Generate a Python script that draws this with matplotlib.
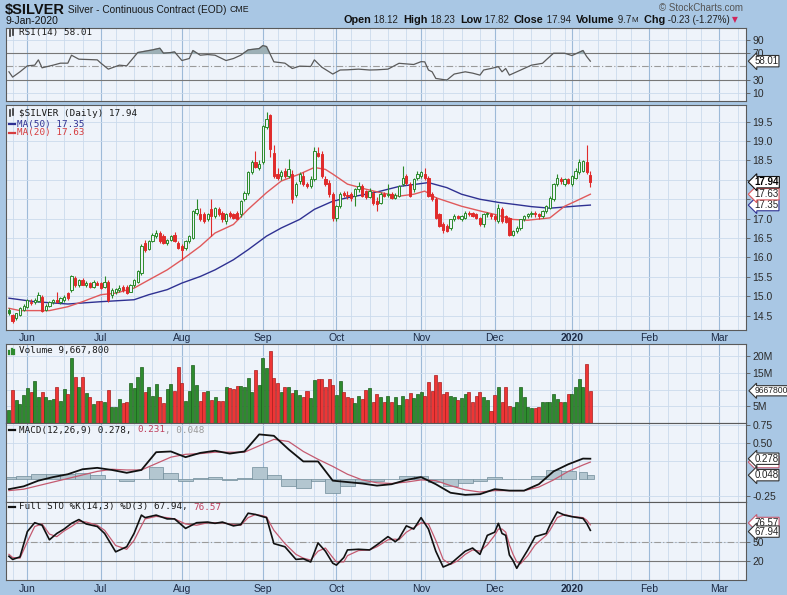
import matplotlib
matplotlib.use("Agg")
import matplotlib.pyplot as plt
from matplotlib import transforms
from matplotlib.lines import Line2D
import numpy as np
import pandas as pd

# ---- data (daily bars, 24-May-2019 .. 9-Jan-2020) ----
opens = [
    14.65, 14.52, 14.43, 14.52, 14.65,                                  # May
    14.73, 14.82, 14.84, 14.88, 14.99, 14.65, 14.76, 14.84, 14.91, 14.84,
    14.90, 15.08, 15.17, 15.47, 15.30, 15.42, 15.30, 15.33, 15.25, 15.34,  # Jun
    15.34, 15.25, 15.38, 15.04, 15.12, 15.17, 15.25, 15.25, 15.12, 15.30, 15.38,
    15.60, 16.37, 16.22, 16.42, 16.55, 16.63, 16.55, 16.38, 16.46, 16.59, 16.38,  # Jul
    16.29, 16.25, 16.42, 16.50, 17.15, 17.11, 17.11, 16.98, 17.24, 17.07, 17.24,
    17.15, 16.94, 17.15, 17.11, 17.15, 17.11, 17.50, 17.67, 18.19, 18.45, 18.30,  # Aug
    18.45, 19.35, 19.66, 18.70, 18.15, 18.10, 18.23, 18.10, 18.15, 17.60,
    17.97, 18.10, 17.89, 17.84, 18.02, 18.70, 18.66, 18.02, 17.93, 17.63,  # Sep
    17.02, 17.32, 17.67, 17.60, 17.63, 17.58, 17.76, 17.84, 17.71, 17.56, 17.67, 17.45,
    17.41, 17.63, 17.60, 17.63, 17.54, 17.58, 17.89, 18.10, 17.89, 17.76, 18.06,  # Oct
    18.10, 18.15, 18.06, 17.63, 17.50, 17.11, 16.85, 16.81, 16.76, 16.98,
    17.07, 17.00, 17.02, 17.15, 17.15, 17.11, 17.02, 16.85, 17.15, 17.11,  # Nov
    17.07, 16.94, 17.24, 17.07, 17.02, 16.59, 16.68, 16.76, 16.98, 17.07, 17.11,
    17.15, 17.11, 17.07, 17.20, 17.28, 17.50, 17.89, 18.02, 17.89, 18.02,  # Dec
    17.89, 18.06, 18.19, 18.23, 18.45, 18.12,                            # Jan
]
highs = [
    14.69, 14.55, 14.58, 14.72, 14.80,
    14.93, 14.92, 14.95, 15.12, 15.02, 14.80, 14.88, 14.93, 15.12, 14.97,
    15.02, 15.10, 15.55, 15.52, 15.45, 15.48, 15.40, 15.38, 15.42, 15.40,
    15.38, 15.51, 15.42, 15.20, 15.22, 15.28, 15.30, 15.30, 15.32, 15.45, 15.68,
    16.35, 16.45, 16.45, 16.62, 16.70, 16.68, 16.60, 16.48, 16.58, 16.65, 16.42,
    16.35, 16.45, 16.58, 17.22, 17.50, 17.28, 17.18, 17.15, 17.50, 17.30, 17.30,
    17.20, 17.15, 17.20, 17.15, 17.20, 17.48, 17.72, 18.22, 18.50, 18.75, 18.50,
    19.42, 19.76, 19.70, 18.90, 18.30, 18.25, 18.30, 18.53, 18.25, 17.95,
    18.20, 18.20, 17.95, 18.10, 18.85, 18.85, 18.75, 18.10, 18.00, 17.70,
    17.35, 17.70, 17.72, 17.72, 17.68, 17.80, 17.95, 17.90, 17.75, 17.78, 17.72, 17.55,
    17.68, 17.70, 17.90, 17.70, 17.65, 17.88, 18.36, 18.15, 17.95, 18.05, 18.22,
    18.23, 18.30, 18.10, 17.70, 17.55, 17.15, 16.92, 16.85, 16.98, 17.12,
    17.10, 17.10, 17.20, 17.20, 17.18, 17.15, 17.05, 17.15, 17.18, 17.15,
    17.12, 17.37, 17.30, 17.10, 17.05, 16.70, 16.80, 17.00, 17.10, 17.15, 17.20,
    17.20, 17.15, 17.22, 17.35, 17.58, 17.92, 18.15, 18.08, 18.05, 18.06,
    18.12, 18.30, 18.55, 18.52, 18.90, 18.23,
]
lows = [
    14.52, 14.30, 14.40, 14.50, 14.62,
    14.70, 14.78, 14.80, 14.85, 14.60, 14.62, 14.72, 14.80, 14.82, 14.80,
    14.85, 14.90, 15.10, 15.25, 15.25, 15.28, 15.25, 15.20, 15.20, 15.28,
    15.18, 15.20, 14.85, 14.95, 15.05, 15.12, 15.12, 15.05, 15.10, 15.25, 15.35,
    15.55, 16.15, 16.18, 16.40, 16.50, 16.38, 16.35, 16.33, 16.42, 16.40, 16.22,
    15.94, 16.20, 16.38, 16.48, 17.10, 16.95, 16.90, 16.95, 16.55, 17.02, 17.08,
    16.92, 16.85, 17.02, 17.00, 16.98, 17.05, 17.45, 17.62, 18.15, 18.30, 18.25,
    18.40, 19.30, 18.60, 18.05, 18.00, 18.00, 18.05, 18.05, 17.40, 17.55,
    17.90, 17.85, 17.80, 17.80, 17.98, 18.60, 18.05, 17.85, 17.55, 16.95,
    16.95, 17.28, 17.55, 17.50, 17.45, 17.32, 17.70, 17.55, 17.50, 17.52, 17.35, 17.20,
    17.38, 17.55, 17.55, 17.50, 17.50, 17.55, 17.85, 17.88, 17.55, 17.70, 18.00,
    18.05, 18.00, 17.55, 17.45, 16.98, 16.78, 16.63, 16.65, 16.70, 16.95,
    16.98, 16.95, 16.98, 17.08, 17.05, 17.00, 16.80, 16.78, 17.05, 17.00,
    16.95, 16.90, 16.90, 16.90, 16.55, 16.55, 16.63, 16.72, 16.95, 17.02, 17.05,
    17.05, 17.00, 17.02, 17.15, 17.25, 17.45, 17.85, 17.90, 17.85, 17.90,
    17.85, 18.02, 18.15, 18.20, 18.15, 17.82,
]
closes = [
    14.56, 14.35, 14.56, 14.69, 14.76,
    14.90, 14.86, 14.91, 15.04, 14.63, 14.76, 14.86, 14.90, 14.86, 14.95,
    14.99, 14.95, 15.51, 15.30, 15.42, 15.30, 15.34, 15.25, 15.38, 15.30,
    15.21, 15.38, 14.91, 15.17, 15.19, 15.21, 15.17, 15.08, 15.30, 15.42, 15.64,
    16.30, 16.20, 16.42, 16.59, 16.63, 16.42, 16.38, 16.46, 16.55, 16.42, 16.25,
    16.20, 16.42, 16.55, 17.19, 17.24, 16.98, 16.94, 17.11, 17.07, 17.28, 17.11,
    16.98, 17.11, 17.07, 17.02, 17.00, 17.45, 17.67, 18.19, 18.45, 18.32, 18.40,
    19.40, 19.57, 18.79, 18.10, 18.06, 18.19, 18.10, 18.27, 17.50, 17.89,
    18.15, 17.89, 17.84, 18.02, 18.75, 18.62, 18.10, 17.89, 17.63, 17.02,
    17.32, 17.63, 17.60, 17.58, 17.54, 17.76, 17.84, 17.58, 17.56, 17.71, 17.41, 17.37,
    17.63, 17.58, 17.63, 17.54, 17.60, 17.84, 18.06, 17.93, 17.58, 18.02, 18.15,
    18.19, 18.06, 17.58, 17.50, 17.02, 16.81, 16.72, 16.68, 16.98, 17.07,
    17.02, 17.07, 17.15, 17.13, 17.07, 17.02, 16.85, 17.11, 17.13, 17.07,
    17.00, 17.28, 16.94, 16.92, 16.59, 16.68, 16.76, 16.98, 17.07, 17.11, 17.15,
    17.11, 17.07, 17.20, 17.32, 17.54, 17.89, 18.06, 17.97, 18.02, 17.93,
    18.10, 18.23, 18.45, 18.49, 18.19, 17.94,
]
volumes_m = [
    3.9, 9.9, 6.9, 5.7, 8.4,
    10.5, 9.2, 12.5, 7.9, 9.2, 7.7, 6.9, 7.2, 10.7, 6.7,
    10.2, 8.7, 19.5, 13.9, 10.7, 13.7, 8.9, 7.7, 5.7, 6.7,
    6.7, 6.4, 9.9, 4.7, 4.9, 7.2, 5.9, 6.4, 11.9, 10.5, 13.9,
    16.9, 9.4, 10.7, 8.2, 11.7, 7.7, 5.9, 10.2, 11.7, 9.7, 16.7,
    11.9, 6.7, 9.7, 17.4, 11.4, 6.7, 9.4, 9.7, 6.9, 7.7, 6.7,
    6.7, 10.7, 10.5, 10.2, 11.0, 11.2, 10.7, 13.5, 9.4, 15.9, 11.4,
    19.5, 16.5, 21.7, 13.4, 11.9, 9.4, 10.9, 10.7, 8.9, 9.9,
    8.4, 7.9, 9.7, 7.4, 12.9, 13.2, 13.2, 10.9, 13.2, 11.4,
    8.4, 12.5, 9.2, 7.9, 7.4, 5.9, 8.2, 7.2, 9.9, 10.5, 6.2, 8.7,
    7.9, 6.2, 8.2, 6.4, 7.7, 5.5, 8.2, 7.2, 9.0, 7.4, 8.8,
    9.4, 8.2, 12.4, 9.7, 14.4, 12.2, 8.7, 9.2, 8.2, 7.9,
    6.9, 7.4, 8.7, 9.2, 6.2, 8.2, 9.4, 7.7, 6.9, 3.5,
    8.4, 10.7, 6.4, 10.7, 5.2, 4.7, 6.2, 10.7, 7.7, 4.7, 4.4,
    4.4, 4.7, 6.2, 6.2, 6.2, 8.7, 7.2, 6.2, 6.2, 8.7,
    8.7, 10.7, 13.2, 10.9, 17.7, 9.6678,
]

ma50_x = [0, 7, 16, 25, 34, 38, 43, 47, 52, 56, 61, 65, 70, 74, 79, 83, 88, 92, 97, 101,
          106, 110, 114, 119, 123, 128, 133, 138, 142, 147, 151, 155, 158]
ma50 = [14.95, 14.86, 14.80, 14.86, 14.91, 15.04, 15.17, 15.34, 15.51, 15.68, 15.94, 16.20,
        16.55, 16.76, 16.98, 17.24, 17.45, 17.54, 17.63, 17.71, 17.83, 17.88, 17.93, 17.80,
        17.63, 17.50, 17.42, 17.36, 17.31, 17.27, 17.30, 17.33, 17.35]
ma20_x = [0, 3, 7, 11, 16, 20, 25, 29, 34, 38, 43, 47, 52, 56, 61, 65, 70, 74, 79, 83, 86,
          88, 92, 97, 101, 106, 110, 113, 116, 123, 128, 132, 137, 141, 147, 151, 154, 158]
ma20 = [14.69, 14.63, 14.63, 14.63, 14.73, 14.86, 15.04, 15.08, 15.21, 15.42, 15.68, 15.94,
        16.29, 16.63, 16.85, 17.24, 17.67, 17.97, 18.15, 18.32, 18.27, 18.15, 17.89, 17.76,
        17.67, 17.58, 17.63, 17.71, 17.54, 17.32, 17.20, 17.11, 16.98, 16.96, 17.02, 17.32,
        17.45, 17.63]

rsi_x = [0, 1, 3, 5, 7, 8, 9, 12, 14, 16, 17, 19, 24, 25, 27, 30, 32, 35, 39, 41, 42, 44,
         45, 47, 49, 50, 52, 54, 56, 59, 61, 63, 65, 68, 69, 70, 72, 75, 77, 79, 82, 83, 85,
         88, 90, 92, 95, 98, 100, 103, 106, 110, 112, 113, 114, 115, 116, 119, 121, 124, 126,
         128, 129, 131, 133, 134, 135, 136, 138, 142, 145, 146, 148, 151, 153, 154, 156, 157, 158]
rsi = [42, 34, 42, 51, 52, 60, 48, 52, 55, 55, 67, 61, 60, 55, 46, 52, 51, 71, 75, 77.5, 70,
       71, 72, 59, 62, 74, 67, 68, 67, 59, 62, 67, 75, 77, 81.5, 80, 57, 55, 47, 50.5, 50, 60,
       49, 38.6, 44.7, 45, 46, 44.7, 45, 46, 54.8, 53, 57.3, 57, 44.7, 42, 32, 29.5, 38.6, 42,
       40, 37, 44.7, 47, 49.7, 42, 47, 37, 42, 52, 54.8, 60, 70, 70, 66.5, 69, 74, 65, 58.01]

macd_x = list(range(0, 157, 4)) + [158]
macd = [-0.15, -0.11, -0.03, 0.02, 0.06, 0.13, 0.15, 0.12, 0.08, 0.12, 0.37, 0.38, 0.30,
        0.36, 0.39, 0.35, 0.38, 0.62, 0.60, 0.41, 0.24, 0.24, -0.03, -0.05, -0.07, -0.10,
        -0.08, -0.02, 0.02, -0.08, -0.20, -0.23, -0.22, -0.15, -0.17, -0.17, -0.08, 0.10,
        0.20, 0.28, 0.278]
signal = [-0.17, -0.15, -0.10, -0.05, 0.00, 0.05, 0.10, 0.13, 0.12, 0.12, 0.21, 0.30, 0.34,
          0.35, 0.37, 0.37, 0.37, 0.46, 0.55, 0.52, 0.38, 0.27, 0.17, 0.06, -0.02, -0.06,
          -0.07, -0.05, -0.02, -0.03, -0.10, -0.16, -0.19, -0.17, -0.17, -0.17, -0.12, -0.02,
          0.10, 0.19, 0.231]

sto_x = [0, 1, 3, 5, 7, 9, 11, 13, 15, 17, 19, 21, 24, 26, 29, 32, 34, 36, 37, 40, 43, 45,
         48, 51, 54, 56, 58, 61, 63, 65, 67, 69, 70, 72, 75, 78, 80, 82, 84, 86, 88, 89, 91,
         92, 95, 98, 100, 103, 105, 106, 108, 110, 112, 114, 116, 118, 120, 122, 124, 126,
         128, 130, 132, 133, 134, 135, 136, 137, 138, 139, 141, 143, 146, 147, 149, 151, 153,
         156, 157, 158]
sto_k = [27, 22, 26, 66, 80, 76, 53, 63, 70, 79, 85, 78, 74, 63, 34, 42, 63, 92, 88, 92, 86,
         86, 71, 80, 81, 79, 81, 75, 77, 95, 93, 89.5, 88, 47, 42, 22, 23, 18, 48, 35, 16, 13,
         25, 37, 38, 37, 45, 58, 50, 55, 75, 70, 88, 70, 35, 10, 15, 25, 35, 40, 30, 60, 65,
         79, 63, 60, 29, 20, 8, 18, 37, 58, 63, 76, 97, 92, 89.5, 86.8, 79, 67.94]
sto_d = [30, 25, 24, 50, 74, 78, 62, 58, 67, 74, 82, 81, 76, 68, 44, 38, 52, 75, 86, 90, 88,
         86, 78, 76, 80, 80, 80, 77, 76, 88, 93, 91, 89, 68, 47, 30, 24, 21, 35, 40, 25, 18,
         18, 28, 36, 37, 42, 53, 54, 53, 65, 72, 80, 78, 52, 22, 14, 20, 30, 37, 35, 45, 60,
         70, 70, 65, 45, 30, 18, 15, 28, 45, 60, 68, 88, 93, 90, 88, 84, 76.57]

holidays = ["2019-05-27", "2019-07-04", "2019-09-02", "2019-11-28",
            "2019-12-25", "2020-01-01", "2020-01-20", "2020-02-17"]

# ---- colours ----
OUTER = "#a9c7e4"
PANEL = "#eef3fa"
GRID = "#cbdaec"
MGRID = "#9dbad8"
GREEN = "#2a8a2a"
RED = "#e02b2b"

W_PX, H_PX = 787, 595
fig = plt.figure(figsize=(W_PX / 100, H_PX / 100), dpi=100, facecolor=OUTER)

trading = pd.bdate_range("2019-05-24", "2020-03-13")
trading = trading[~trading.isin(pd.to_datetime(holidays))]
month_starts = [i for i in range(1, len(trading)) if trading[i].month != trading[i - 1].month]
week_starts = [i for i in range(1, len(trading)) if trading[i].weekday() < trading[i - 1].weekday()]
month_names = ["2020" if trading[i].month == 1 else trading[i].strftime("%b") for i in month_starts]


def panel(top, bottom):
    return fig.add_axes([6 / W_PX, 1 - bottom / H_PX, 740 / W_PX, (bottom - top) / H_PX])


def base(ax, ylim):
    ax.set_facecolor(PANEL)
    ax.set_xlim(-0.8, 200.3)
    ax.set_ylim(*ylim)
    for x in week_starts:
        ax.axvline(x, color=GRID, lw=0.6, zorder=0)
    for x in month_starts:
        ax.axvline(x, color=MGRID, lw=0.8, zorder=0)
    ax.yaxis.tick_right()
    ax.tick_params(axis="y", length=3, width=0.6, colors="#555555", labelsize=7.5,
                   labelcolor="#2b2b2b", pad=1.5)
    ax.tick_params(axis="x", length=0, labelbottom=False)
    ax.grid(axis="y", color=GRID, lw=0.6)
    ax.set_axisbelow(True)
    for s in ax.spines.values():
        s.set_color("#5a5a5a")
        s.set_linewidth(0.8)


def tag(ax, y, s, ec, tc="#222222", bold=False, size=7.0, z=10):
    tr = transforms.blended_transform_factory(ax.transAxes, ax.transData)
    ax.text(1.011, y, s, transform=tr, fontsize=size, color=tc, ha="left", va="center",
            fontweight="bold" if bold else "normal", clip_on=False, zorder=z,
            bbox=dict(boxstyle="larrow,pad=0.07", fc="white", ec=ec, lw=0.8))


def month_labels(ax):
    ax.set_xticks(month_starts)
    ax.set_xticklabels(month_names)
    ax.tick_params(axis="x", length=0, pad=2, labelsize=7.5, labelcolor="#1d2b45", labelbottom=True)
    for lab in ax.get_xticklabels():
        if lab.get_text() == "2020":
            lab.set_fontweight("bold")


plt.rcParams["font.family"] = ["Liberation Sans", "DejaVu Sans"]

ax_rsi = panel(28, 101)
ax_px = panel(105, 330)
ax_vol = panel(344, 423)
ax_macd = panel(423, 502)
ax_sto = panel(502, 580)

n = min(len(opens), len(highs), len(lows), len(closes), len(volumes_m))
o = np.array(opens[:n])
h = np.array(highs[:n])
lo = np.array(lows[:n])
c = np.array(closes[:n])
v = np.array(volumes_m[:n])
ix = np.arange(n)
prev = np.r_[c[0], c[:-1]]
col = np.where(c >= prev, GREEN, RED)
face = np.where(c < o, col, PANEL)

# ---- RSI ----
base(ax_rsi, (-2, 108))
ax_rsi.set_yticks([10, 30, 70, 90])
ax_rsi.axhline(70, color="#777777", lw=0.8)
ax_rsi.axhline(30, color="#777777", lw=0.8)
ax_rsi.axhline(50, color="#9a9a9a", lw=0.8, ls=(0, (6, 2, 1, 2)))
rx, rv = np.array(rsi_x), np.array(rsi)
ax_rsi.fill_between(rx, 70, rv, where=rv > 70, interpolate=True, color="#9db0b6", zorder=2)
ax_rsi.fill_between(rx, 30, rv, where=rv < 30, interpolate=True, color="#9db0b6", zorder=2)
ax_rsi.plot(rx, rv, color="#5a5a5a", lw=0.9, zorder=3)
tag(ax_rsi, rsi[-1], "58.01", "#333333")

# ---- price ----
base(ax_px, (14.13, 19.93))
ax_px.set_yticks(np.arange(14.5, 19.51, 0.5))
ax_px.set_yticklabels(["" if t in (17.5, 18.0) else f"{t:.1f}" for t in np.arange(14.5, 19.51, 0.5)])
ax_px.plot(ma50_x, ma50, color="#2f3192", lw=1.0, zorder=2)
ax_px.plot(ma20_x, ma20, color="#e0595b", lw=1.0, zorder=2)
ax_px.vlines(ix, lo, h, colors=col, lw=0.8, zorder=3)
ax_px.bar(ix, np.maximum(np.abs(c - o), 0.02), bottom=np.minimum(o, c), width=0.62,
          color=face, edgecolor=col, linewidth=0.7, zorder=4)
month_labels(ax_px)
tag(ax_px, 17.35, "17.35", "#2f3192")
tag(ax_px, 17.63, "17.63", "#e0595b")
tag(ax_px, c[-1], "17.94", "#111111", tc="black", bold=True)

# ---- volume ----
base(ax_vol, (0, 23.7))
ax_vol.set_yticks([5, 15, 20])
ax_vol.set_yticklabels(["5M", "15M", "20M"])
ax_vol.axhline(10, color=GRID, lw=0.6, zorder=0)
vedge = np.where(col == GREEN, "#1b5e1b", "#a81c1c")
vface = np.where(col == GREEN, "#2e8b2e", "#ee3535")
ax_vol.bar(ix, v, width=0.82, color=vface, edgecolor=vedge, linewidth=0.5, zorder=3)
tag(ax_vol, v[-1], "9667800", "#333333", size=6.2)

# ---- MACD ----
base(ax_macd, (-0.33, 0.78))
ax_macd.set_yticks([-0.25, 0.5, 0.75])
ax_macd.set_yticklabels(["-0.25", "0.50", "0.75"])
ax_macd.axhline(0.25, color=GRID, lw=0.6, zorder=0)
mx = np.array(macd_x)
mv, sv = np.array(macd), np.array(signal)
hist = mv - sv
widths = np.r_[np.diff(mx), 2]
ax_macd.bar(mx, hist, width=widths, color="#b3c6d0", edgecolor="#6f8b99", linewidth=0.5, zorder=2)
ax_macd.plot(mx, sv, color="#c45a70", lw=0.9, zorder=3)
ax_macd.plot(mx, mv, color="#111111", lw=1.3, zorder=4)
tag(ax_macd, 0.231, "0.231", "#c45a70", z=9)
tag(ax_macd, macd[-1], "0.278", "#333333")
tag(ax_macd, hist[-1], "0.048", "#333333")

# ---- Full stochastics ----
base(ax_sto, (-10.5, 112.7))
ax_sto.set_yticks([20, 50])
ax_sto.axhline(80, color="#777777", lw=0.8)
ax_sto.axhline(20, color="#777777", lw=0.8)
ax_sto.axhline(50, color="#9a9a9a", lw=0.8, ls=(0, (6, 2, 1, 2)))
ax_sto.plot(sto_x, sto_d, color="#c45a70", lw=0.9, zorder=3)
ax_sto.plot(sto_x, sto_k, color="#111111", lw=1.2, zorder=4)
month_labels(ax_sto)
ax_sto.tick_params(axis="x", pad=3)
tag(ax_sto, sto_d[-1] + 3, "76.57", "#c45a70", z=9)
tag(ax_sto, sto_k[-1] - 2, "67.94", "#333333")

# ---- header and panel legends ----
renderer = fig.canvas.get_renderer()


def chain(x, y, pieces):
    for s, kw in pieces:
        t = fig.text(x / W_PX, 1 - y / H_PX, s, va="center", ha="left", **kw)
        x += t.get_window_extent(renderer).width
    return x


B8 = dict(fontsize=7.8, fontweight="bold", color="#111111")
N7 = dict(fontsize=7, color="#222222")
MONO = dict(family="DejaVu Sans Mono", fontsize=6.7, color="#1a1a1a")

chain(5, 10, [("$SILVER", dict(fontsize=10.5, fontweight="bold", color="#111111")),
              (" Silver - Continuous Contract (EOD) ", dict(fontsize=7.3, color="#1a1a1a")),
              ("CME", dict(fontsize=6.3, color="#1a1a1a"))])
fig.text(5 / W_PX, 1 - 21 / H_PX, "9-Jan-2020", fontsize=7.5, color="#111111", va="center")
fig.text(743 / W_PX, 1 - 8 / H_PX, "\u00a9 StockCharts.com", fontsize=7, color="#555555",
         va="center", ha="right")
chain(343, 20, [("Open", B8), (" 18.12  ", N7), ("High", B8), (" 18.23  ", N7),
                ("Low", B8), (" 17.82  ", N7), ("Close", B8), (" 17.94  ", N7),
                ("Volume", B8), (" 9.7", N7), ("M", dict(fontsize=5.8, color="#222222")),
                ("  Chg", B8), (" -0.23 (-1.27%) ", N7),
                ("\u25bc", dict(family="DejaVu Sans", fontsize=5.5, color="#d0245a"))])

chain(19, 33, [("RSI(14) 58.01", MONO)])
chain(19, 113, [("$SILVER (Daily) 17.94", MONO)])
chain(17, 124, [("MA(50) 17.35", dict(MONO, color="#2f3192"))])
chain(17, 133, [("MA(20) 17.63", dict(MONO, color="#d63c3e"))])
chain(19, 351, [("Volume 9,667,800", MONO)])
chain(19, 430, [("MACD(12,26,9) 0.278, ", MONO), ("0.231", dict(MONO, color="#c0405e")),
                (", 0.048", dict(MONO, color="#9a9a9a"))])
chain(19, 507, [("Full STO %K(14,3) %D(3) 67.94, ", MONO), ("76.57", dict(MONO, color="#c0405e"))])

# little legend keys
for y, colr in [(124, "#2f3192"), (133, "#d63c3e"), (430, "#111111"), (507, "#111111")]:
    fig.add_artist(Line2D([9 / W_PX, 15 / W_PX], [1 - y / H_PX] * 2, color=colr, lw=1.6))
for y in (33, 113):
    fig.add_artist(Line2D([10 / W_PX, 10 / W_PX], [1 - (y + 3) / H_PX, 1 - (y - 3) / H_PX],
                          color="#333333", lw=1.2))
    fig.add_artist(Line2D([13 / W_PX, 13 / W_PX], [1 - (y + 2) / H_PX, 1 - (y - 4) / H_PX],
                          color="#333333", lw=1.2))
for k, hgt in enumerate([3, 5, 4]):
    fig.add_artist(Line2D([(9 + 2.5 * k) / W_PX] * 2, [1 - 354 / H_PX, 1 - (354 - hgt) / H_PX],
                          color="#2e8b2e", lw=1.6))

fig.savefig("out.png", dpi=100, facecolor=OUTER)
